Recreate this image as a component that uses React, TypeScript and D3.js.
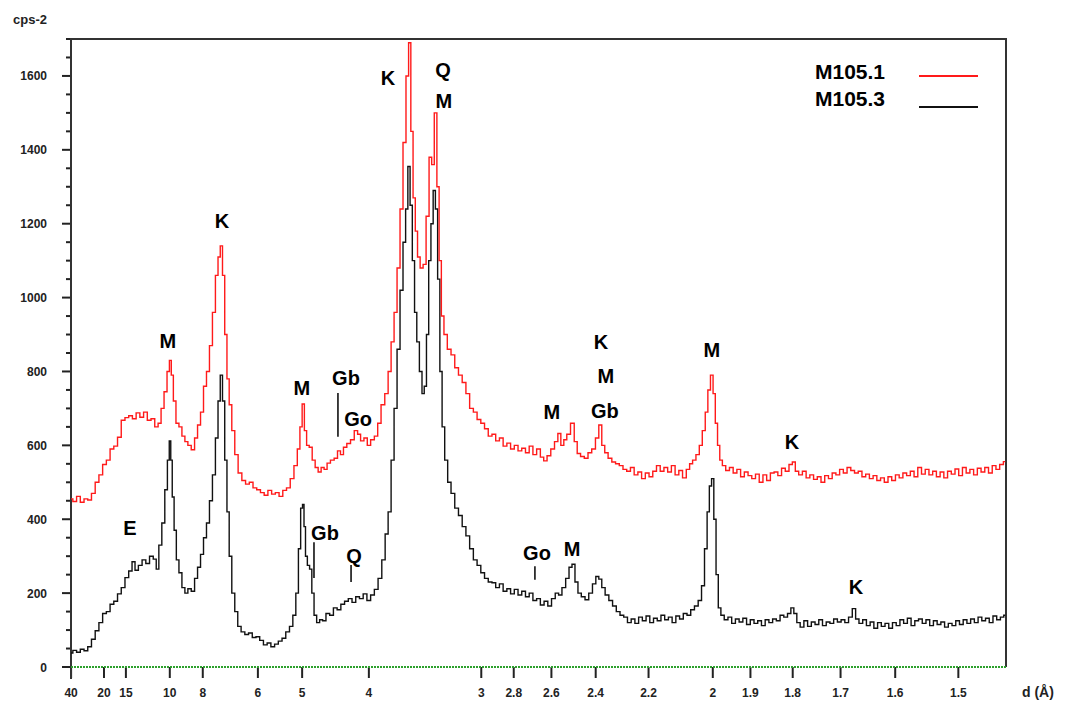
import React from 'react';
import * as d3 from 'd3';

// Cu K-alpha wavelength, used to place d-spacing ticks on the 2-theta axis
const LAMBDA = 1.5406;

const dTicks = [40, 20, 15, 10, 8, 6, 5, 4, 3, 2.8, 2.6, 2.4, 2.2, 2, 1.9, 1.8, 1.7, 1.6, 1.5];
const yMajor = [0, 200, 400, 600, 800, 1000, 1200, 1400, 1600];
const yMinor = d3.range(0, 1701, 50);

// [2-theta (deg), counts]
const m1051: [number, number][] = [
  [2.2, 455], [2.45, 448], [2.7, 462], [2.95, 446], [3.2, 455], [3.45, 452], [3.7, 470], [3.95, 500],
  [4.2, 520], [4.45, 548], [4.7, 560], [4.95, 590], [5.2, 598], [5.45, 622], [5.7, 668], [5.95, 675],
  [6.2, 680], [6.45, 672], [6.7, 688], [6.95, 676], [7.2, 690], [7.45, 668], [7.7, 672], [7.95, 650],
  [8.15, 660], [8.35, 700], [8.55, 745], [8.75, 800], [8.87, 830], [9.0, 790], [9.15, 720], [9.35, 660],
  [9.55, 650], [9.75, 625], [9.95, 610], [10.15, 600], [10.4, 588], [10.6, 620], [10.8, 655], [11.0, 690],
  [11.2, 760], [11.4, 800], [11.6, 870], [11.8, 960], [12.0, 1060], [12.15, 1110], [12.3, 1140], [12.45, 1060],
  [12.6, 900], [12.75, 780], [12.9, 710], [13.1, 640], [13.3, 575], [13.55, 525], [13.8, 505], [14.05, 495],
  [14.3, 500], [14.55, 485], [14.8, 480], [15.05, 472], [15.3, 465], [15.55, 478], [15.8, 468], [16.05, 472],
  [16.3, 462], [16.55, 478], [16.8, 485], [17.05, 510], [17.3, 545], [17.5, 590], [17.65, 650], [17.8, 712],
  [17.95, 640], [18.1, 600], [18.3, 595], [18.5, 560], [18.7, 540], [18.9, 528], [19.1, 540], [19.3, 535],
  [19.5, 552], [19.75, 560], [20.0, 565], [20.2, 585], [20.4, 575], [20.6, 595], [20.85, 605], [21.1, 615],
  [21.35, 640], [21.55, 630], [21.75, 612], [22.0, 620], [22.2, 600], [22.45, 615], [22.7, 625], [22.9, 660],
  [23.15, 710], [23.4, 740], [23.6, 800], [23.8, 880], [24.0, 960], [24.2, 1080], [24.4, 1240], [24.6, 1420],
  [24.8, 1600], [24.95, 1690], [25.1, 1450], [25.25, 1270], [25.4, 1180], [25.55, 1110], [25.75, 1080], [25.95, 1090],
  [26.15, 1220], [26.35, 1380], [26.5, 1360], [26.7, 1500], [26.85, 1300], [27.0, 1100], [27.15, 950], [27.35, 900],
  [27.6, 860], [27.85, 845], [28.1, 810], [28.35, 790], [28.6, 770], [28.85, 740], [29.1, 700], [29.35, 690],
  [29.6, 670], [29.85, 660], [30.1, 645], [30.35, 625], [30.6, 630], [30.85, 612], [31.1, 620], [31.35, 598],
  [31.6, 606], [31.85, 590], [32.1, 600], [32.35, 585], [32.6, 592], [32.85, 580], [33.1, 598], [33.35, 575],
  [33.6, 590], [33.85, 568], [34.05, 558], [34.3, 572], [34.55, 590], [34.8, 610], [35.0, 632], [35.2, 600],
  [35.4, 615], [35.6, 630], [35.9, 660], [36.1, 610], [36.3, 578], [36.55, 570], [36.8, 565], [37.05, 580],
  [37.3, 590], [37.55, 620], [37.75, 655], [37.95, 600], [38.15, 580], [38.4, 565], [38.65, 555], [38.9, 550],
  [39.15, 545], [39.4, 535], [39.65, 530], [39.9, 540], [40.15, 520], [40.4, 528], [40.65, 510], [40.9, 525],
  [41.15, 515], [41.4, 530], [41.65, 545], [41.9, 530], [42.15, 540], [42.4, 528], [42.65, 545], [42.9, 520],
  [43.15, 532], [43.4, 512], [43.65, 535], [43.85, 550], [44.05, 560], [44.3, 575], [44.5, 600], [44.7, 640],
  [44.9, 690], [45.05, 750], [45.25, 790], [45.4, 740], [45.55, 660], [45.7, 600], [45.85, 560], [46.05, 545],
  [46.3, 532], [46.55, 540], [46.8, 525], [47.05, 535], [47.3, 515], [47.55, 528], [47.8, 518], [48.05, 510],
  [48.3, 522], [48.55, 500], [48.8, 520], [49.05, 505], [49.3, 525], [49.55, 528], [49.8, 518], [50.05, 538],
  [50.3, 530], [50.55, 548], [50.75, 555], [50.95, 530], [51.2, 520], [51.45, 530], [51.7, 512], [51.95, 520],
  [52.2, 508], [52.45, 515], [52.7, 500], [52.95, 518], [53.2, 510], [53.45, 525], [53.7, 520], [53.95, 535],
  [54.2, 525], [54.45, 540], [54.7, 532], [54.95, 525], [55.2, 530], [55.45, 515], [55.7, 522], [55.95, 510],
  [56.2, 518], [56.45, 505], [56.7, 512], [56.95, 500], [57.2, 515], [57.45, 505], [57.7, 520], [57.95, 512],
  [58.2, 525], [58.45, 518], [58.7, 530], [58.95, 515], [59.2, 540], [59.45, 522], [59.7, 535], [59.95, 520],
  [60.2, 530], [60.45, 515], [60.7, 528], [60.95, 512], [61.2, 530], [61.45, 522], [61.7, 536], [61.95, 518],
  [62.2, 540], [62.45, 525], [62.7, 535], [62.95, 520], [63.2, 538], [63.45, 528], [63.7, 540], [63.95, 525],
  [64.2, 545], [64.45, 535], [64.7, 548], [64.95, 556],
];

const m1053: [number, number][] = [
  [2.2, 38], [2.45, 45], [2.7, 40], [2.95, 48], [3.2, 44], [3.45, 55], [3.7, 75], [3.95, 98],
  [4.2, 120], [4.45, 145], [4.7, 150], [4.95, 170], [5.2, 178], [5.45, 198], [5.7, 215], [5.95, 242],
  [6.2, 260], [6.4, 285], [6.6, 262], [6.85, 275], [7.1, 290], [7.35, 280], [7.6, 300], [7.85, 292],
  [8.0, 265], [8.2, 330], [8.4, 390], [8.6, 480], [8.75, 560], [8.85, 612], [8.95, 560], [9.05, 460],
  [9.2, 370], [9.35, 290], [9.55, 255], [9.75, 215], [9.95, 200], [10.15, 212], [10.4, 205], [10.6, 240],
  [10.8, 270], [11.0, 305], [11.2, 350], [11.4, 390], [11.6, 450], [11.8, 520], [12.0, 620], [12.15, 720],
  [12.3, 790], [12.45, 720], [12.6, 560], [12.75, 420], [12.9, 300], [13.1, 200], [13.3, 150], [13.5, 110],
  [13.75, 95], [14.0, 88], [14.25, 92], [14.5, 80], [14.75, 82], [15.0, 72], [15.25, 60], [15.5, 65],
  [15.75, 55], [16.0, 62], [16.25, 70], [16.5, 78], [16.75, 95], [17.0, 110], [17.2, 140], [17.4, 200],
  [17.55, 320], [17.7, 430], [17.8, 440], [17.9, 380], [18.0, 300], [18.15, 275], [18.3, 265], [18.45, 200],
  [18.6, 140], [18.8, 120], [19.0, 128], [19.2, 125], [19.45, 145], [19.7, 140], [19.95, 160], [20.2, 155],
  [20.45, 170], [20.7, 178], [20.95, 185], [21.2, 175], [21.45, 190], [21.7, 185], [21.95, 198], [22.2, 180],
  [22.45, 195], [22.7, 210], [22.95, 240], [23.2, 290], [23.4, 360], [23.6, 420], [23.8, 560], [24.0, 700],
  [24.2, 860], [24.4, 1020], [24.6, 1150], [24.75, 1240], [24.9, 1355], [25.05, 1250], [25.2, 1100], [25.35, 960],
  [25.5, 880], [25.7, 800], [25.85, 740], [26.0, 760], [26.15, 900], [26.3, 1100], [26.45, 1200], [26.6, 1290],
  [26.75, 1240], [26.9, 1050], [27.05, 800], [27.2, 650], [27.4, 560], [27.6, 500], [27.85, 470], [28.1, 430],
  [28.35, 410], [28.6, 380], [28.85, 355], [29.1, 320], [29.35, 290], [29.6, 275], [29.85, 255], [30.1, 240],
  [30.35, 230], [30.6, 228], [30.85, 215], [31.1, 225], [31.35, 205], [31.6, 212], [31.85, 198], [32.1, 210],
  [32.35, 195], [32.6, 205], [32.85, 190], [33.1, 200], [33.35, 180], [33.6, 185], [33.85, 168], [34.1, 178],
  [34.35, 165], [34.6, 185], [34.85, 200], [35.05, 195], [35.3, 215], [35.55, 240], [35.75, 270], [35.95, 278],
  [36.15, 230], [36.35, 200], [36.6, 190], [36.85, 182], [37.1, 200], [37.35, 225], [37.55, 245], [37.75, 238],
  [37.95, 215], [38.2, 195], [38.45, 180], [38.7, 165], [38.95, 150], [39.2, 140], [39.45, 135], [39.7, 120],
  [39.95, 130], [40.2, 118], [40.45, 135], [40.7, 125], [40.95, 138], [41.2, 120], [41.45, 132], [41.7, 125],
  [41.95, 140], [42.2, 128], [42.45, 135], [42.7, 120], [42.95, 138], [43.2, 130], [43.45, 145], [43.7, 140],
  [43.95, 155], [44.2, 165], [44.45, 180], [44.65, 220], [44.85, 320], [45.0, 420], [45.15, 490], [45.3, 510],
  [45.45, 400], [45.6, 250], [45.75, 160], [45.95, 140], [46.2, 128], [46.45, 135], [46.7, 118], [46.95, 130],
  [47.2, 122], [47.45, 132], [47.7, 115], [47.95, 128], [48.2, 118], [48.45, 125], [48.7, 112], [48.95, 128],
  [49.2, 120], [49.45, 130], [49.7, 125], [49.95, 140], [50.2, 135], [50.45, 145], [50.65, 160], [50.85, 145],
  [51.05, 120], [51.3, 108], [51.55, 125], [51.8, 110], [52.05, 122], [52.3, 115], [52.55, 128], [52.8, 112],
  [53.05, 122], [53.3, 118], [53.55, 130], [53.8, 122], [54.05, 128], [54.3, 120], [54.55, 135], [54.8, 158],
  [55.0, 130], [55.25, 118], [55.5, 128], [55.75, 112], [56.0, 122], [56.25, 105], [56.5, 120], [56.75, 110],
  [57.0, 118], [57.25, 105], [57.5, 120], [57.75, 112], [58.0, 128], [58.25, 118], [58.5, 132], [58.75, 112],
  [59.0, 125], [59.25, 130], [59.5, 118], [59.75, 128], [60.0, 112], [60.25, 125], [60.5, 115], [60.75, 122],
  [61.0, 108], [61.25, 118], [61.5, 112], [61.75, 125], [62.0, 115], [62.25, 128], [62.5, 118], [62.75, 130],
  [63.0, 120], [63.25, 135], [63.5, 125], [63.75, 132], [64.0, 120], [64.25, 138], [64.5, 128], [64.75, 135],
  [64.95, 140],
];

// mineral labels: [text, 2-theta, counts]
const peakLabels: [string, number, number][] = [
  ['M', 8.71, 864], ['K', 12.34, 1188], ['M', 17.71, 736], ['Gb', 20.67, 763], ['Go', 21.48, 652],
  ['K', 23.49, 1575], ['Q', 27.18, 1597], ['M', 27.25, 1513], ['M', 34.5, 671], ['K', 37.79, 861],
  ['M', 38.13, 769], ['Gb', 38.06, 674], ['M', 45.25, 839], ['K', 50.62, 590],
  ['E', 6.16, 357], ['Gb', 19.26, 344], ['Q', 21.21, 282], ['Go', 33.5, 290], ['M', 35.85, 300], ['K', 54.92, 198],
];
// marker ticks: [2-theta, from counts, to counts]
const markers: [number, number, number][] = [
  [20.13, 742, 623], [18.52, 338, 241], [21.01, 276, 230], [33.36, 273, 236],
];

const legend = [
  { name: 'M105.1', color: '#ff1a1a' },
  { name: 'M105.3', color: '#111' },
];

const W = 1069, H = 704;
const left = 71, right = 1006, top = 39, bottom = 667;
const font = '"Liberation Sans", Arial, sans-serif';

const toTwoTheta = (d: number) => (2 * Math.asin(LAMBDA / (2 * d)) * 180) / Math.PI;

export default function App() {
  const x = d3.scaleLinear().domain([2.2, 65]).range([left, right]);
  const y = d3.scaleLinear().domain([0, 1700]).range([bottom, top]);
  const line = d3.line<[number, number]>()
    .x(d => x(d[0]))
    .y(d => y(d[1]))
    .curve(d3.curveStep);

  return (
    <svg width={W} height={H} style={{ position: 'absolute', left: 0, top: 0, background: '#fff' }}>
      <text x={13} y={24} fontFamily={font} fontWeight="bold" fontSize={13} fill="#222">cps-2</text>

      {/* y ticks */}
      {yMinor.map(v => (
        <line key={'m' + v} x1={left - (v % 200 === 0 ? 9 : 5)} x2={left} y1={y(v)} y2={y(v)} stroke="#222" strokeWidth={2} />
      ))}
      {yMajor.map(v => (
        <text key={'l' + v} x={47} y={y(v) + 4.5} textAnchor="end" fontFamily={font} fontWeight="bold" fontSize={12} fill="#222">{v}</text>
      ))}

      {/* x ticks */}
      {dTicks.map(d => (
        <g key={d}>
          <line x1={x(toTwoTheta(d))} x2={x(toTwoTheta(d))} y1={bottom} y2={bottom + 11} stroke="#222" strokeWidth={2} />
          <text x={x(toTwoTheta(d))} y={bottom + 30} textAnchor="middle" fontFamily={font} fontWeight="bold" fontSize={12} fill="#222">{d}</text>
        </g>
      ))}
      <text x={1022} y={bottom + 30} fontFamily={font} fontWeight="bold" fontSize={14} fill="#222">d (Å)</text>

      {/* frame */}
      <path d={`M${left},${bottom + 12}V${top}H${right}V${bottom}`} fill="none" stroke="#333" strokeWidth={2} />
      <line x1={left} x2={right} y1={bottom} y2={bottom} stroke="#2ca02c" strokeWidth={2} strokeDasharray="2,1" />

      {/* patterns */}
      <path d={line(m1053) || ''} fill="none" stroke={legend[1].color} strokeWidth={1.4} />
      <path d={line(m1051) || ''} fill="none" stroke={legend[0].color} strokeWidth={1.4} />

      {/* peak labels */}
      {markers.map((m, i) => (
        <line key={'mk' + i} x1={x(m[0])} x2={x(m[0])} y1={y(m[1])} y2={y(m[2])} stroke="#000" strokeWidth={1.5} />
      ))}
      {peakLabels.map((p, i) => (
        <text key={'p' + i} x={x(p[1])} y={y(p[2])} textAnchor="middle" fontFamily={font} fontWeight="bold" fontSize={20} fill="#000">{p[0]}</text>
      ))}

      {/* legend */}
      {legend.map((s, i) => (
        <g key={s.name}>
          <text x={815} y={79 + i * 27} fontFamily={font} fontWeight="bold" fontSize={21} fill="#000">{s.name}</text>
          <line x1={919} x2={978} y1={76 + i * 31} y2={76 + i * 31} stroke={s.color} strokeWidth={2} />
        </g>
      ))}
    </svg>
  );
}
